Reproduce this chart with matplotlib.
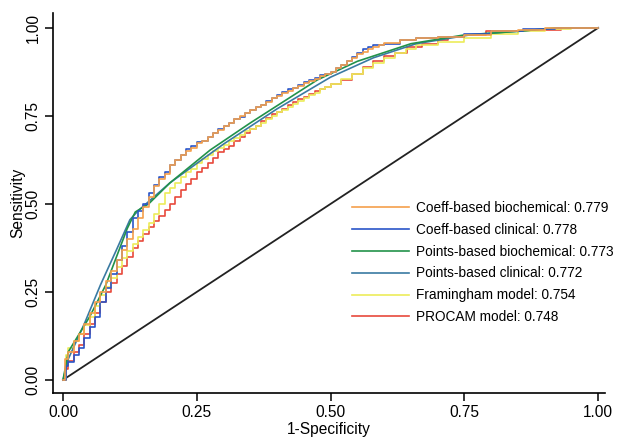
import matplotlib
matplotlib.use("Agg")
import matplotlib.pyplot as plt

plt.rcParams['font.family'] = ['Liberation Sans', 'DejaVu Sans']

# ROC curves: (1-specificity, sensitivity)
coeff_bio_x = [0, 0.004, 0.01, 0.02, 0.03, 0.04, 0.05, 0.06, 0.07, 0.08, 0.09, 0.10, 0.11, 0.12,
               0.13, 0.14, 0.15, 0.16, 0.17, 0.18, 0.19, 0.20, 0.21, 0.22, 0.23, 0.24, 0.25,
               0.26, 0.27, 0.28, 0.29, 0.30, 0.31, 0.32, 0.33, 0.34, 0.35, 0.36, 0.37, 0.38,
               0.39, 0.40, 0.41, 0.42, 0.43, 0.44, 0.45, 0.46, 0.47, 0.48, 0.49, 0.50, 0.51,
               0.52, 0.53, 0.54, 0.55, 0.56, 0.57, 0.58, 0.59, 0.60, 0.63, 0.66, 0.70, 0.75,
               0.80, 0.85, 0.90, 1.0]
coeff_bio_y = [0, 0.06, 0.08, 0.11, 0.13, 0.16, 0.19, 0.22, 0.25, 0.28, 0.31, 0.34, 0.37, 0.40,
               0.43, 0.46, 0.49, 0.52, 0.55, 0.57, 0.585, 0.61, 0.625, 0.64, 0.65, 0.66, 0.672,
               0.68, 0.69, 0.70, 0.71, 0.72, 0.73, 0.74, 0.75, 0.758, 0.766, 0.774, 0.782, 0.79,
               0.80, 0.807, 0.815, 0.822, 0.83, 0.836, 0.842, 0.85, 0.856, 0.862, 0.868, 0.874,
               0.885, 0.895, 0.905, 0.915, 0.925, 0.932, 0.94, 0.946, 0.952, 0.956, 0.965,
               0.97, 0.975, 0.98, 0.99, 0.995, 1.0, 1.0]

coeff_clin_x = [0, 0.005, 0.01, 0.02, 0.03, 0.04, 0.05, 0.06, 0.07, 0.08, 0.09, 0.10, 0.11,
                0.12, 0.13, 0.14, 0.15, 0.16, 0.17, 0.18, 0.19, 0.20, 0.21, 0.22, 0.23, 0.24,
                0.25, 0.26, 0.27, 0.28, 0.29, 0.30, 0.31, 0.32, 0.33, 0.34, 0.35, 0.36, 0.37,
                0.38, 0.39, 0.40, 0.41, 0.42, 0.43, 0.44, 0.45, 0.46, 0.47, 0.48, 0.49, 0.50,
                0.51, 0.52, 0.53, 0.54, 0.55, 0.56, 0.57, 0.58, 0.60, 0.63, 0.66, 0.70, 0.75,
                0.80, 0.86, 0.92, 1.0]
coeff_clin_y = [0, 0.04, 0.05, 0.07, 0.09, 0.12, 0.15, 0.18, 0.22, 0.26, 0.30, 0.34, 0.38,
                0.42, 0.46, 0.48, 0.50, 0.53, 0.555, 0.575, 0.59, 0.61, 0.625, 0.64, 0.655,
                0.665, 0.675, 0.68, 0.69, 0.70, 0.712, 0.72, 0.73, 0.74, 0.748, 0.758, 0.768,
                0.775, 0.782, 0.792, 0.80, 0.81, 0.818, 0.825, 0.83, 0.838, 0.846, 0.852, 0.858,
                0.865, 0.87, 0.876, 0.885, 0.895, 0.905, 0.918, 0.93, 0.94, 0.946, 0.95, 0.955,
                0.966, 0.97, 0.975, 0.982, 0.99, 0.996, 1.0, 1.0]

points_bio_x = [0, 0.01, 0.05, 0.08, 0.10, 0.12, 0.135, 0.16, 0.20, 0.275, 0.35, 0.475, 0.55,
                0.65, 0.75, 0.85, 0.92, 1.0]
points_bio_y = [0, 0.08, 0.18, 0.27, 0.35, 0.43, 0.477, 0.50, 0.56, 0.653, 0.73, 0.852, 0.905,
                0.955, 0.98, 0.99, 1.0, 1.0]

points_clin_x = [0, 0.01, 0.04, 0.07, 0.10, 0.125, 0.14, 0.20, 0.30, 0.40, 0.50, 0.58, 0.66,
                 0.76, 0.86, 0.93, 1.0]
points_clin_y = [0, 0.06, 0.16, 0.27, 0.37, 0.455, 0.48, 0.56, 0.67, 0.77, 0.86, 0.915, 0.955,
                 0.98, 0.992, 1.0, 1.0]

fram_x = [0, 0.005, 0.01, 0.02, 0.03, 0.04, 0.05, 0.06, 0.07, 0.08, 0.09, 0.10, 0.11, 0.12,
          0.13, 0.14, 0.15, 0.16, 0.17, 0.18, 0.19, 0.20, 0.21, 0.22, 0.23, 0.24, 0.25, 0.26,
          0.27, 0.28, 0.29, 0.30, 0.31, 0.32, 0.33, 0.34, 0.35, 0.36, 0.37, 0.38, 0.39, 0.40,
          0.41, 0.42, 0.43, 0.44, 0.45, 0.46, 0.47, 0.48, 0.49, 0.50, 0.52, 0.54, 0.56, 0.58,
          0.60, 0.62, 0.64, 0.66, 0.70, 0.75, 0.80, 0.85, 0.90, 0.95, 1.0]
fram_y = [0, 0.07, 0.09, 0.11, 0.13, 0.155, 0.18, 0.21, 0.24, 0.265, 0.29, 0.32, 0.345, 0.365,
          0.385, 0.405, 0.425, 0.445, 0.47, 0.50, 0.53, 0.545, 0.56, 0.575, 0.59, 0.60, 0.615,
          0.628, 0.64, 0.65, 0.66, 0.668, 0.678, 0.688, 0.697, 0.706, 0.714, 0.722, 0.73,
          0.74, 0.75, 0.76, 0.768, 0.776, 0.785, 0.792, 0.80, 0.808, 0.816, 0.825, 0.833,
          0.84, 0.855, 0.87, 0.885, 0.90, 0.915, 0.93, 0.94, 0.95, 0.96, 0.972, 0.983, 0.99,
          0.996, 1.0, 1.0]

procam_x = [0, 0.005, 0.01, 0.02, 0.03, 0.04, 0.05, 0.06, 0.07, 0.08, 0.09, 0.10, 0.11, 0.12,
            0.13, 0.14, 0.15, 0.16, 0.17, 0.18, 0.19, 0.20, 0.21, 0.22, 0.23, 0.24, 0.25,
            0.26, 0.27, 0.28, 0.29, 0.30, 0.31, 0.32, 0.33, 0.34, 0.35, 0.36, 0.37, 0.38,
            0.39, 0.40, 0.41, 0.42, 0.43, 0.44, 0.45, 0.46, 0.47, 0.48, 0.49, 0.50, 0.52,
            0.54, 0.56, 0.58, 0.60, 0.62, 0.643, 0.67, 0.70, 0.72, 0.75, 0.79, 0.86, 0.93, 1.0]
procam_y = [0, 0.03, 0.055, 0.08, 0.10, 0.13, 0.16, 0.19, 0.22, 0.25, 0.275, 0.30, 0.325,
            0.35, 0.375, 0.395, 0.415, 0.435, 0.45, 0.465, 0.482, 0.50, 0.52, 0.54, 0.556,
            0.572, 0.59, 0.603, 0.615, 0.63, 0.646, 0.656, 0.665, 0.678, 0.69, 0.70, 0.712,
            0.722, 0.735, 0.745, 0.755, 0.762, 0.77, 0.78, 0.79, 0.797, 0.805, 0.812, 0.82,
            0.826, 0.833, 0.84, 0.852, 0.87, 0.888, 0.905, 0.92, 0.93, 0.946, 0.955, 0.965,
            0.975, 0.98, 0.99, 0.995, 1.0, 1.0]

labels = ['Coeff-based biochemical: 0.779', 'Coeff-based clinical: 0.778',
          'Points-based biochemical: 0.773', 'Points-based clinical: 0.772',
          'Framingham model: 0.754', 'PROCAM model: 0.748']
colors = ['#f5a04c', '#2a55c8', '#22924a', '#3a7aa2', '#ecec5a', '#e8493c']

curves = [(coeff_bio_x, coeff_bio_y, 'steps-post'),
          (coeff_clin_x, coeff_clin_y, 'steps-post'),
          (points_bio_x, points_bio_y, 'default'),
          (points_clin_x, points_clin_y, 'default'),
          (fram_x, fram_y, 'steps-post'),
          (procam_x, procam_y, 'steps-post')]

fig = plt.figure(figsize=(6.2, 4.44), dpi=100)
ax = fig.add_axes([0.0855, 0.115, 0.8905, 0.856])

# reference diagonal
ax.plot([0, 1], [0, 1], color='#222222', linewidth=1.3, zorder=1)

# draw in reverse so the top-listed models sit on top
handles = {}
for i in [5, 4, 3, 2, 1, 0]:
    x, y, ds = curves[i]
    line, = ax.plot(x, y, color=colors[i], linewidth=1.2, drawstyle=ds, zorder=2 + (5 - i))
    handles[i] = line

ax.set_xlim(-0.0187, 1.013)
ax.set_ylim(-0.037, 1.0426)
ax.spines['top'].set_visible(False)
ax.spines['right'].set_visible(False)
ax.spines['left'].set_linewidth(1.2)
ax.spines['bottom'].set_linewidth(1.2)

ticks = [0, 0.25, 0.5, 0.75, 1.0]
ticklabels = ['0.00', '0.25', '0.50', '0.75', '1.00']
ax.set_xticks(ticks)
ax.set_xticklabels(ticklabels, fontsize=11.2)
ax.set_yticks(ticks)
ax.set_yticklabels(ticklabels, fontsize=11.2, rotation=90, va='center')
ax.tick_params(length=6, width=1.1, pad=3)

ax.set_xlabel('1-Specificity', fontsize=11.2, labelpad=1)
ax.set_ylabel('Sensitivity', fontsize=11.2, labelpad=0)

ax.legend([handles[i] for i in range(6)], labels, loc='upper left',
          bbox_to_anchor=(0.532, 0.52), frameon=False, fontsize=9.8,
          handlelength=4.2, handletextpad=0.5, labelspacing=0.58, borderaxespad=0)

fig.savefig('out.png', dpi=100)
